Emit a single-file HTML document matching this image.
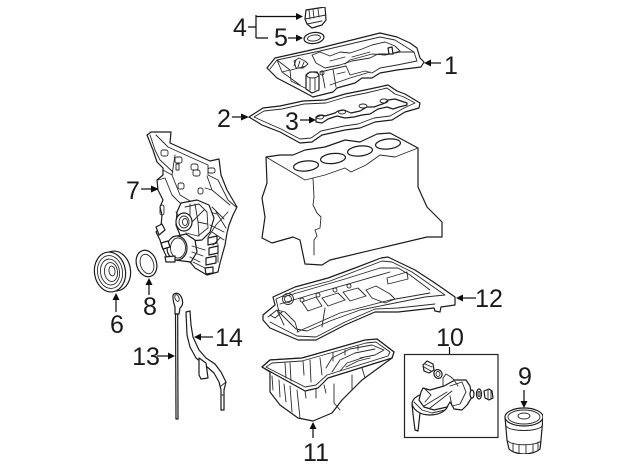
<!DOCTYPE html>
<html><head><meta charset="utf-8"><style>
html,body{margin:0;padding:0;background:#fff}
svg{display:block}
text{font-family:"Liberation Sans",sans-serif;font-size:25px;fill:#1a1a1a;text-anchor:middle}
.l{fill:#fff;stroke:#1c1c1c;stroke-width:1.2;stroke-linejoin:round;stroke-linecap:round}
.n{fill:none;stroke:#2a2a2a;stroke-width:.9;stroke-linejoin:round;stroke-linecap:round}
.a{fill:none;stroke:#111;stroke-width:1.2}
.h{fill:#111;stroke:none}
</style></head><body>
<svg width="640" height="471" viewBox="0 0 640 471" xmlns="http://www.w3.org/2000/svg">
<defs><filter id="b" x="0" y="0" width="100%" height="100%"><feGaussianBlur stdDeviation="0.3"/></filter></defs>
<g filter="url(#b)">
<!-- oil cap -->
<path class="l" d="M306 10L325 7L326 20L322 25L312 28L307 24L305 19Z"/>
<path class="n" d="M305 19L326 15M307 24L322 21M309 10L310 19M313 9L314 18M318 9L319 17"/>
<!-- ring 5 -->
<ellipse class="l" cx="314" cy="38" rx="10" ry="5.5" transform="rotate(-8 314 38)"/>
<ellipse class="n" cx="314" cy="38" rx="6.5" ry="3" transform="rotate(-8 314 38)"/>
<!-- valve cover -->
<path class="l" d="M267 68L275 58L320 48L380 33L397 37L410 43L417 48L420 58L424 62L421 67L397 70L380 73L372 78L362 78L355 83L337 88L333 92L313 97L300 90L277 78Z"/>
<path class="n" d="M270 69L277 60L282 72L300 85M277 60L290 70L291 81L305 88M282 72L290 70M291 70L306 66M320 72L333 69L336 87M322 72L325 88M333 69L346 66L350 75L365 71L372 73L380 68L397 65L417 61L414 52L395 40L380 37L320 51L277 60"/>
<path class="n" d="M312 55L320 52L330 56L340 52L350 53L362 49L372 45L385 42L395 46L400 51L390 54L378 54L370 58L352 61L340 65L325 68L316 63Z"/>
<path class="n" d="M330 61L345 57M352 57L370 52M345 64L350 60L372 54L385 55L400 52L414 52"/>
<path class="n" d="M294 61L299 58L305 61L308 64L303 68L296 68Z"/>
<path class="n" d="M296 60L294 66M300 61L298 67M304 62L302 67" stroke-width="1.5"/>
<path class="l" d="M306 75L310 72L317 72L319 75L319 90L312 93L306 89Z"/>
<ellipse class="n" cx="312.500" cy="75" rx="6" ry="3"/>
<path class="n" d="M310 78V90M315 78V90"/>
<path class="l" d="M388 48L392 47L393 54L389 54Z"/>
<circle class="n" cx="322" cy="73" r="2"/>
<path class="n" d="M337 74L345 72M330 85L350 78L370 72"/>
<!-- gasket 2 -->
<path class="l" d="M249 117L263 108L280 106L303 101L325 100L345 94L365 90L388 85L397 91L405 94L420 103L419 108L405 112L392 120L375 122L360 128L345 130L322 135L312 142L300 143L280 132L262 125Z"/>
<path class="n" d="M254 117L264 111L282 109L304 104L326 103L346 97L366 93L387 88L395 94L404 97L415 103L404 108L390 116L374 118L358 124L344 126L321 131L311 138L300 139L281 129L265 122Z"/>
<!-- gasket 3 -->
<path class="l" d="M316 117L322 115L325 116L335 113L338 111L344 110L351 113L360 111L367 107L374 107L385 103L388 100L395 99L401 101L407 103V105L399 107L393 109L387 107L378 109L370 114L362 115L354 117L345 118L337 116L328 119L322 123L316 122Z"/>
<ellipse class="n" cx="320" cy="117" rx="3.500" ry="2"/><ellipse class="n" cx="342" cy="112" rx="3.500" ry="2"/><ellipse class="n" cx="363" cy="106" rx="4" ry="2"/><ellipse class="n" cx="384" cy="101" rx="4" ry="2"/>
<!-- engine block -->
<path class="l" d="M266 157L280 155L293 155L305 150L325 147L345 140L360 142L377 134L390 133L418 148L418 187L427 207L442 222L442 237L427 237L330 260L322 265L305 264L300 240L293 237L272 243L262 238L265 217L262 198L267 183Z"/>
<path class="n" d="M266 157L305 180L313 178L325 175L345 168L351 172L366 165L380 155L395 157L418 148" stroke-width="1"/>
<path class="n" d="M313 178L314 197L313 205L317 213L321 217L320 228L315 230L317 236L314 240L314 255" stroke-width="1"/>
<ellipse class="l" cx="306" cy="166" rx="12.500" ry="5" transform="rotate(-6 306 166)"/>
<ellipse class="l" cx="333" cy="158.500" rx="12.500" ry="5" transform="rotate(-6 333 158.500)"/>
<ellipse class="l" cx="360" cy="151" rx="12.500" ry="5" transform="rotate(-6 360 151)"/>
<ellipse class="l" cx="388" cy="144" rx="12.500" ry="5" transform="rotate(-6 388 144)"/>
<!-- upper oil pan 12 -->
<path class="l" d="M263 315L275 305L273 297L295 287L328 278L355 268L381 258L388 257L415 270L435 283L455 297L455 305L441 307L440 312L435 311L434 308L398 312L375 312L345 325L316 340L298 340L270 328L263 320Z"/>
<path class="n" d="M276 299L296 290L330 281L382 261L392 262L412 272L445 295L425 297L395 303L360 310L330 321L307 331L296 329L279 312Z"/>
<path class="n" d="M283 297L345 279L380 268L398 268L410 275L430 290M280 304L310 295L390 272M297 332L340 313L390 300L430 293"/>
<path class="n" d="M302 302L316 297L322 306L308 311ZM322 298L338 293L345 300L328 306ZM343 292L358 288L366 296L350 301ZM366 290L376 286L390 294L395 299L385 303L372 298ZM387 278L407 272L408 279L388 284Z"/>
<circle class="n" cx="288" cy="299" r="5.500"/><circle class="n" cx="288" cy="299" r="3.500"/>
<circle class="n" cx="302" cy="300" r="2"/><circle class="n" cx="318" cy="295" r="2"/><circle class="n" cx="335" cy="290" r="2"/><circle class="n" cx="349" cy="286" r="2"/>
<path class="n" d="M268 317L277 310L285 312L295 322L298 332M277 310L284 325M270 322L297 336L316 337L345 322L375 309L398 308L435 304M325 308L322 327M270 315L275 318M282 312L275 318"/>
<!-- oil pan 11 -->
<path class="l" d="M270 372L270 392L280 405L298 418L313 421L332 413L342 400L352 390L362 380L392 358L394 352L377 339L302 358L270 360L262 367Z"/>
<path class="l" d="M262 367L270 360L302 358L365 340L377 339L394 352L392 358L328 378L318 388L305 391Z"/>
<path class="n" d="M266 367L272 363L302 361L366 343L376 342L390 352L388 356L327 375L316 385L305 387Z"/>
<path class="n" d="M272 376L273 390M279 380L280 397M284 384L286 402M290 386L292 412M297 390L300 418M305 391L306 398M316 389L316 398M324 385L326 393M334 384L334 403L340 410M352 375L352 390M362 368L365 378M285 363L286 378M290 363L291 381M303 361L304 375M310 360L311 382M320 358L322 375M333 353L333 361M345 350L345 355M358 346L358 350"/>
<path class="n" d="M326 368L332 358L350 349L372 345L384 350L375 355L360 358M332 372L340 360L355 353L375 349M340 371L347 363L365 357M346 367L358 361L370 358"/>
<!-- dipstick 13 -->
<path class="l" d="M173 298C172 293 177 292 180 295C183 299 184 305 180 308L179 314L175 314L175 307C174 304 173 301 173 298Z"/>
<ellipse class="n" cx="177" cy="298" rx="2" ry="3.500" transform="rotate(-20 177 298)"/>
<path class="l" d="M175.500 314L176 419L178 419L177.700 314Z"/>
<!-- tube 14 -->
<path class="l" d="M186 312L190 311L191 325L193 337L199 350L206 358L215 364L221 372L226 382L224 390L224 410L221 410L221 390L219 382L214 373L206 366L196 358L190 347L187 335Z"/>
<path class="n" d="M221 386L226 382M222 395L224 395"/>
<path class="l" d="M199 358L206 363L208 378L201 379L199 375Z"/>
<!-- front cover 7 -->
<path class="l" d="M147 135L151 132L171 132L170 143L190 152L210 161L219 159L221 175L227 190L237 207L233 215L229 225L227 233L225 245L220 263L218 272L207 275L195 268L190 262L175 259L168 260L162 247L160 240L156 232L161 226L162 215L160 207L163 200L158 190L157 180L163 175L163 168L157 162L153 150Z"/>
<path class="n" d="M150 135L155 150L160 160M156 135L168 147L190 157L208 165L208 175L218 180L228 200L236 207M163 170L172 175L180 195L205 210L216 214M158 180L165 178L172 195L180 203M172 175L175 155M207 176L212 190L218 195L230 205M205 188L212 190M160 160L173 172"/>
<rect class="n" x="161" y="150" width="7" height="6" rx="2"/><rect class="n" x="175" y="157" width="7" height="6" rx="2"/><rect class="n" x="191" y="164" width="7" height="6" rx="2"/><rect class="n" x="193" y="170" width="7" height="6" rx="2"/><rect class="n" x="208" y="168" width="7" height="5" rx="2"/><rect class="n" x="176" y="164" width="3" height="6"/><rect class="n" x="178" y="183" width="6" height="6" rx="2"/><rect class="n" x="198" y="188" width="5" height="6" rx="2"/><rect class="n" x="160" y="205" width="4" height="10" rx="2"/>
<path class="l" d="M181 203L197 200L209 205L214 218L210 232L202 240L190 241L180 235L176 225L177 212Z"/>
<path class="n" d="M185 207L199 204L207 212L208 228L198 236L186 233M195 204L198 222M190 204L190 216M204 210L192 222M198 222L207 224M198 222L199 236M176 212L180 218"/>
<ellipse class="l" cx="184" cy="222" rx="8" ry="9"/><ellipse class="n" cx="184" cy="222" rx="5" ry="6"/><ellipse class="n" cx="185" cy="222" rx="2.500" ry="3.500"/>
<path class="l" d="M173 237L186 234L195 240L197 252L191 262L175 260L168 252Z"/>
<ellipse class="l" cx="177" cy="248" rx="10" ry="12"/><ellipse class="n" cx="178" cy="248" rx="7.500" ry="10"/>
<path class="l" d="M156 227L162 224L165 230L159 235ZM161 243L168 241L170 247L163 249ZM165 257L175 256L175 262L166 262Z"/>
<path class="n" d="M208 237L216 225L228 212M210 225L224 232M212 207L224 219M216 212L226 228M212 232L224 240"/>
<path class="l" d="M208 238L217 236V243L208 245ZM209 248L218 246V253L209 255ZM206 258L216 256V263L206 265ZM205 268L213 267V273L206 274Z"/>
<path class="n" d="M192 246L205 250M192 252L203 256M190 257L200 262M193 262L205 268M213 245L220 238M218 244V262"/>
<!-- pulley 6 -->
<ellipse class="l" cx="115" cy="271" rx="15.500" ry="20" transform="rotate(-8 115 271)"/>
<ellipse class="l" cx="110" cy="272" rx="15.500" ry="20" transform="rotate(-8 110 272)"/>
<ellipse class="n" cx="110" cy="272" rx="12.500" ry="16.500" transform="rotate(-8 110 272)"/>
<ellipse class="n" cx="110" cy="272" rx="9.500" ry="13" transform="rotate(-8 110 272)"/>
<ellipse class="n" cx="111" cy="272" rx="6.500" ry="9.500" transform="rotate(-8 111 272)"/>
<ellipse class="n" cx="112" cy="271" rx="3" ry="5" transform="rotate(-8 112 271)"/>
<!-- seal 8 -->
<ellipse class="l" cx="146.500" cy="263.500" rx="10" ry="13.500" transform="rotate(-18 146.500 263.500)"/>
<ellipse class="n" cx="147" cy="264" rx="6.500" ry="10" transform="rotate(-18 147 264)"/>
<!-- box 10 -->
<rect x="404.500" y="354.500" width="93.500" height="83" fill="#fff" stroke="#222" stroke-width="1.200"/>
<path class="a" d="M449.500 347V354"/>
<path class="l" d="M423 365L427 361L433 364L434 370L429 373L424 371Z"/>
<path class="n" d="M425 364L432 367M424 367L431 371"/>
<ellipse class="l" cx="438" cy="374" rx="4" ry="4.500" transform="rotate(-30 438 374)"/>
<ellipse class="n" cx="438" cy="374" rx="2" ry="2.500"/>
<path class="n" d="M443 388L443 378L446 374L451 377L455 381"/>
<ellipse class="l" cx="430" cy="404" rx="18" ry="11"/>
<path class="l" d="M412 404L413 414L415 430L418 431L420 413C416 411 413 408 412 404Z"/>
<path class="l" d="M421 392L423 388L430 390L444 386L455 380L466 380L470 386L472 397L467 405L462 410L454 409L452 405L450 402L447 407L434 410L424 407L419 400Z"/>
<path class="n" d="M424 406L447 392M430 408L452 391M425 389L431 395L425 402M450 386L462 382L466 392L460 404L452 406L450 396M454 380L458 386M414 402L422 410L432 413L445 410"/>
<ellipse class="l" cx="472" cy="394" rx="2" ry="4"/>
<ellipse class="l" cx="479" cy="394" rx="2.500" ry="5"/>
<ellipse class="n" cx="479" cy="394" rx="1" ry="2.500"/>
<path class="l" d="M484 391L489 389L492 391L493 398L489 400L485 398Z"/>
<path class="n" d="M488 390V399M491 390V399"/>
<!-- oil filter 9 -->
<path class="l" d="M505 417L507 440L509 449C512 452 518 454 524 454C530 454 537 452 540 449L541 440L543 417Z"/>
<ellipse class="l" cx="524" cy="417" rx="19" ry="9"/>
<ellipse class="n" cx="524" cy="417" rx="16" ry="7"/>
<ellipse class="n" cx="524" cy="416" rx="6" ry="3"/>
<path class="n" d="M506 426C510 432 538 432 542 426M508 441C512 446 536 446 541 441M513 443V452M519 445V454M526 445V454M533 444V453M538 442V450"/>
<!-- arrows -->
<path class="a" d="M256 27H248M256 15V38M256 16.500H297M256 38H268"/>
<path class="h" d="M303 16.500L296 13V20Z"/>
<path class="a" d="M288 38H296"/><path class="h" d="M303 38L296 34.500V41.500Z"/>
<path class="a" d="M441 63H430"/><path class="h" d="M424 63L431 59.500V66.500Z"/>
<path class="a" d="M232 117H241"/><path class="h" d="M249 117L241 113.500V120.500Z"/>
<path class="a" d="M300 120H309"/><path class="h" d="M316 120L309 116.500V123.500Z"/>
<path class="a" d="M141 189H151"/><path class="h" d="M159 189L151 185.500V192.500Z"/>
<path class="a" d="M116 312V299"/><path class="h" d="M116 293L112.500 300H119.500Z"/>
<path class="a" d="M149 295V284"/><path class="h" d="M149 278L145.500 285H152.500Z"/>
<path class="a" d="M157 356H168"/><path class="h" d="M175 356L168 352.500V359.500Z"/>
<path class="a" d="M213 337H201"/><path class="h" d="M194 337L201 333.500V340.500Z"/>
<path class="a" d="M476 298H463"/><path class="h" d="M456 298L463 294.500V301.500Z"/>
<path class="a" d="M313 438V428"/><path class="h" d="M313 422L309.500 429H316.500Z"/>
<path class="a" d="M524 390V402"/><path class="h" d="M524 408L520.500 401H527.500Z"/>
</g>
<!-- labels -->
<text x="240" y="36">4</text>
<text x="281" y="46">5</text>
<text x="451" y="74">1</text>
<text x="224" y="127">2</text>
<text x="292" y="130">3</text>
<text x="133" y="199">7</text>
<text x="117" y="333">6</text>
<text x="150" y="315">8</text>
<text x="146" y="365">13</text>
<text x="229" y="346">14</text>
<text x="489" y="307">12</text>
<text x="316" y="461">11</text>
<text x="450" y="346">10</text>
<text x="525" y="385">9</text>
</svg>
</body></html>
